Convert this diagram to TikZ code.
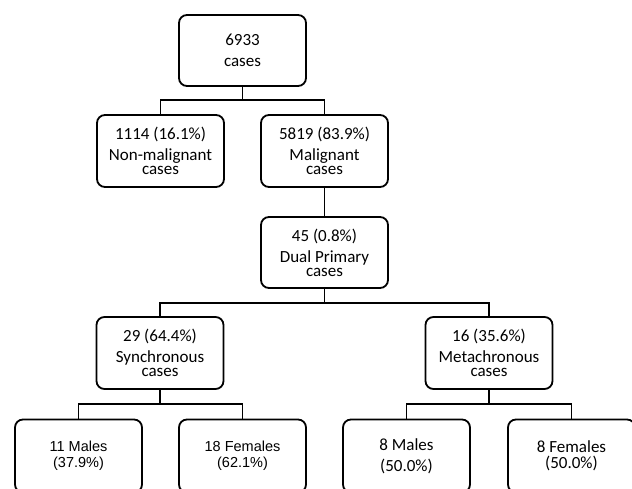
\documentclass[tikz,border=0pt]{standalone}
\usepackage{fontspec}
\setmainfont{Carlito}
\newfontfamily\arialfont{Liberation Sans}
\begin{document}
\begin{tikzpicture}[x=1pt,y=1pt,
  box/.style={draw, line width=1.8pt, rounded corners=8pt, minimum width=127pt,
    minimum height=71pt, inner sep=0pt, align=center, fill=white,
    font=\fontsize{17}{14}\selectfont},
  lowbox/.style={box, minimum height=73pt},
  link/.style={line width=1.8pt}]
\useasboundingbox (0,0) rectangle (632,-488);
\fill[white] (0,0) rectangle (632,-488);
\clip (0,0) rectangle (632,-488);

\node[box] (top) at (242.5,-50.5) {6933\\[7pt]cases};
\node[box, minimum height=72pt] (nonmal) at (160.5,-151) {1114 (16.1\%)\\[6pt]Non-malignant\\cases};
\node[box, minimum height=72pt] (mal) at (324.5,-151) {5819 (83.9\%)\\[6pt]Malignant\\cases};
\node[box] (dual) at (324.5,-252.5) {45 (0.8\%)\\[6pt]Dual Primary\\cases};
\node[box, minimum height=72pt] (sync) at (160,-353) {29 (64.4\%)\\[6pt]Synchronous\\cases};
\node[box, minimum height=72pt] (meta) at (489,-353) {16 (35.6\%)\\[6pt]Metachronous\\cases};

\node[lowbox, font=\arialfont\fontsize{14.5}{16}\selectfont] (m1) at (78.5,-456) {11 Males\\(37.9\%)};
\node[lowbox, font=\arialfont\fontsize{14.5}{16}\selectfont] (f1) at (242.5,-456) {18 Females\\(62.1\%)};
\node[lowbox] (m2) at (406.5,-456) {8 Males\\[7pt](50.0\%)};
\node[lowbox, font=\fontsize{17}{16}\selectfont] (f2) at (571.5,-456) {8 Females\\(50.0\%)};

\coordinate (j1) at (242.5,-100);
\coordinate (j2) at (324.5,-303);
\coordinate (j3) at (160,-404);
\coordinate (j4) at (489,-404);

\draw[link] (top.south) -- (j1);
\draw[link] (nonmal.north) |- (j1) -| (mal.north);
\draw[link] (mal.south) -- (dual.north);
\draw[link] (dual.south) -- (j2);
\draw[link] (sync.north) |- (j2) -| (meta.north);
\draw[link] (sync.south) -- (j3);
\draw[link] (m1.north) |- (j3) -| (f1.north);
\draw[link] (meta.south) -- (j4);
\draw[link] (m2.north) |- (j4) -| (f2.north);
\end{tikzpicture}
\end{document}
